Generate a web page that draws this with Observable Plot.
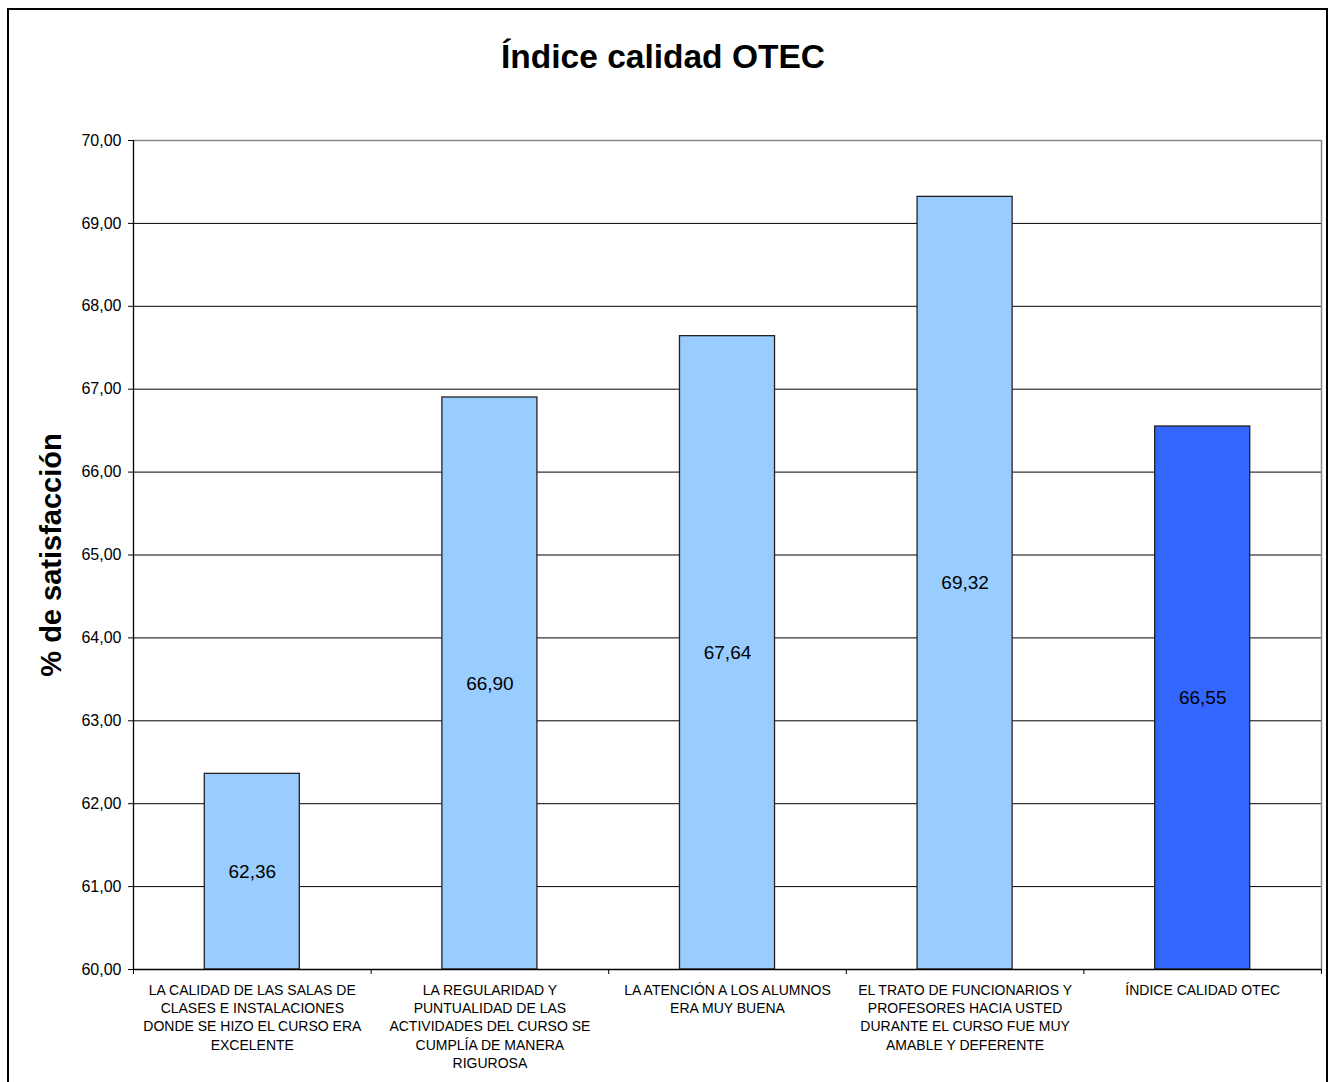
<!DOCTYPE html>
<html>
<head>
<meta charset="utf-8">
<script src="https://cdn.jsdelivr.net/npm/d3@7"></script>
<script src="https://cdn.jsdelivr.net/npm/@observablehq/plot@0.6"></script>
<style>
  html, body { margin: 0; padding: 0; background: #fff; overflow: hidden; }
  #wrap { position: relative; width: 1335px; height: 1082px; font-family: Arial, "Liberation Sans", sans-serif; }
  #border { position: absolute; left: 7px; top: 8px; width: 1321px; height: 1080px; border: 2px solid #000; border-bottom: none; box-sizing: border-box; pointer-events: none; }
  #title { position: absolute; left: 0; top: 0; width: 1326px; height: 100px; text-align: center; font-weight: bold; font-size: 33.5px; line-height: 34px; padding-top: 40px; box-sizing: border-box; color: #000; }
  #chart { position: absolute; left: 0; top: 100px; }
</style>
</head>
<body>
<div id="wrap">
  <div id="title">Índice calidad OTEC</div>
  <div id="chart"></div>
  <div id="border"></div>
</div>
<script>
const categories = [
  "LA CALIDAD DE LAS SALAS DE\nCLASES E INSTALACIONES\nDONDE SE HIZO EL CURSO ERA\nEXCELENTE",
  "LA REGULARIDAD Y\nPUNTUALIDAD DE LAS\nACTIVIDADES DEL CURSO SE\nCUMPLÍA DE MANERA\nRIGUROSA",
  "LA ATENCIÓN A LOS ALUMNOS\nERA MUY BUENA",
  "EL TRATO DE FUNCIONARIOS Y\nPROFESORES HACIA USTED\nDURANTE EL CURSO FUE MUY\nAMABLE Y DEFERENTE",
  "ÍNDICE CALIDAD OTEC"
];
const values = [62.36, 66.90, 67.64, 69.32, 66.55];
const kinds = ["item", "item", "item", "item", "indice"];
const yDomain = [60, 70];
const yTicks = [60, 61, 62, 63, 64, 65, 66, 67, 68, 69, 70];
const yLabel = "% de satisfacción";

const data = categories.map((c, i) => ({i, category: c, value: values[i], kind: kinds[i]}));
const n = categories.length;
const loc = d3.formatLocale({decimal: ",", thousands: ".", grouping: [3], currency: ["$", ""]});
const fmt = loc.format(".2f");
const font = "Arial, 'Liberation Sans', sans-serif";

const chart = Plot.plot({
  width: 1335,
  height: 982,
  marginLeft: 133,
  marginRight: 14,
  marginTop: 40,
  marginBottom: 113,
  style: {fontFamily: font, background: "transparent", color: "#000"},
  x: {type: "linear", domain: [0, n], axis: null},
  y: {domain: yDomain, axis: null},
  color: {domain: ["item", "indice"], range: ["#99CCFF", "#3366FF"]},
  marks: [
    Plot.ruleY(yTicks.slice(1, -1), {stroke: "#000", strokeWidth: 1}),
    Plot.ruleY([yDomain[1]], {stroke: "#888", strokeWidth: 1.5}),
    Plot.ruleX([n], {stroke: "#888", strokeWidth: 1.5}),
    Plot.rectY(data, {
      x1: d => d.i + 0.3,
      x2: d => d.i + 0.7,
      y1: () => yDomain[0],
      y2: "value",
      fill: "kind",
      stroke: "#222",
      strokeWidth: 1.3
    }),
    Plot.ruleY([yDomain[0]], {stroke: "#000", strokeWidth: 1.3}),
    Plot.ruleX([0], {stroke: "#000", strokeWidth: 1.3}),
    Plot.axisY({ticks: yTicks, tickSize: 5, tickPadding: 7, tickFormat: fmt, fontSize: 16, label: null, stroke: "#000"}),
    Plot.axisX({ticks: d3.range(0, n + 1), tickSize: 5, tickFormat: () => "", label: null, stroke: "#000"}),
    Plot.text(data, {
      x: d => d.i + 0.5,
      frameAnchor: "bottom",
      text: "category",
      lineAnchor: "top",
      dy: 13,
      fontSize: 14,
      lineHeight: 1.29,
      fill: "#000"
    }),
    Plot.text(data, {
      x: d => d.i + 0.5,
      y: d => (yDomain[0] + d.value) / 2,
      text: d => fmt(d.value),
      fontSize: 19,
      fill: "#000"
    }),
    Plot.text([yLabel], {
      frameAnchor: "left",
      textAnchor: "middle",
      dx: -82,
      rotate: -90,
      fontSize: 29,
      fontWeight: "bold",
      fill: "#000"
    })
  ]
});
document.getElementById("chart").appendChild(chart);
</script>
</body>
</html>
